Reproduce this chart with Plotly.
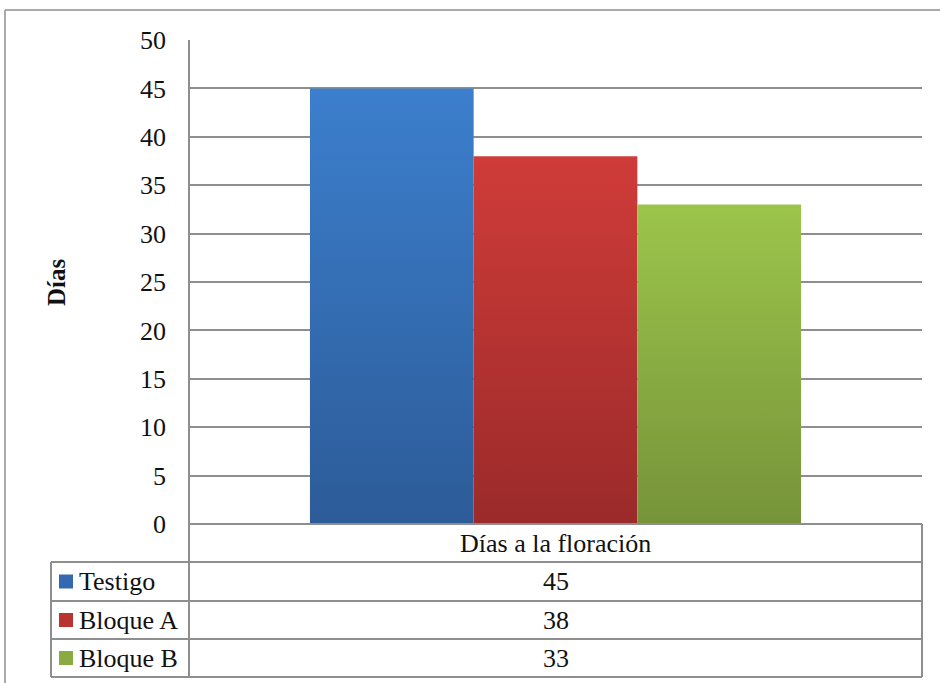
import plotly.graph_objects as go

# Data
categories = ["Días a la floración"]
series_names = ["Testigo", "Bloque A", "Bloque B"]
series_values = [45, 38, 33]
y_ticks = [0, 5, 10, 15, 20, 25, 30, 35, 40, 45, 50]

# Styling (gradient bottom -> top for each series, plus key colour)
gradients = [
    ("#2c5b98", "#3c7fcd"),
    ("#9b2a2a", "#cf3c39"),
    ("#76933a", "#9cc54b"),
]
key_colors = ["#3468b0", "#b93331", "#89ab42"]
line_gray = "#8e8e8e"
font_family = "'Times New Roman', 'Liberation Serif', Times, serif"
font_size = 26
text_color = "#111111"

W, H = 940, 683


def px(x):
    return x / W


def py(y):
    return 1 - y / H


# Geometry of the plot area (pixels)
left, right, top, bottom = 189, 922, 40, 524
legend_left = 51
row_edges = [524, 562, 601, 639, 677]

fig = go.Figure()

# Clustered bars drawn as filled areas so each can carry a vertical gradient
group_width = 0.67
bar_w = group_width / len(series_values)
for i, (name, val) in enumerate(zip(series_names, series_values)):
    x0 = -group_width / 2 + i * bar_w
    x1 = x0 + bar_w
    lo, hi = gradients[i]
    fig.add_trace(go.Scatter(
        x=[x0, x1, x1, x0, x0],
        y=[0, 0, val, val, 0],
        mode="lines",
        line=dict(width=0),
        fill="toself",
        fillgradient=dict(type="vertical", start=0, stop=val,
                          colorscale=[[0, lo], [1, hi]]),
        name=name,
        hoverinfo="name+y",
        showlegend=False,
    ))

fig.update_layout(
    width=W,
    height=H,
    autosize=False,
    margin=dict(l=0, r=0, t=0, b=0, pad=0, autoexpand=False),
    paper_bgcolor="white",
    plot_bgcolor="white",
    font=dict(family=font_family, size=font_size, color=text_color),
    xaxis=dict(
        domain=[px(left), px(right)],
        range=[-0.5, 0.5],
        showgrid=False,
        zeroline=False,
        showticklabels=False,
        automargin=False,
        fixedrange=True,
    ),
    yaxis=dict(
        domain=[py(bottom), py(top)],
        range=[0, 50],
        tickvals=y_ticks,
        showgrid=True,
        gridcolor=line_gray,
        gridwidth=2,
        zeroline=False,
        ticks="",
        ticklabelstandoff=22,
        automargin=False,
        tickfont=dict(family=font_family, size=font_size, color=text_color),
        fixedrange=True,
    ),
    showlegend=False,
)

shapes = []


def hline(x0, x1, y):
    shapes.append(dict(type="line", xref="paper", yref="paper",
                       x0=px(x0), x1=px(x1), y0=py(y), y1=py(y),
                       line=dict(color=line_gray, width=2)))


def vline(x, y0, y1):
    shapes.append(dict(type="line", xref="paper", yref="paper",
                       x0=px(x), x1=px(x), y0=py(y0), y1=py(y1),
                       line=dict(color=line_gray, width=2)))


# Outer chart frame (right and bottom edges fall outside the page)
shapes.append(dict(type="line", xref="paper", yref="paper",
                   x0=px(5), x1=1, y0=py(10), y1=py(10),
                   line=dict(color=line_gray, width=1.5)))
shapes.append(dict(type="line", xref="paper", yref="paper",
                   x0=px(5), x1=px(5), y0=py(10), y1=0,
                   line=dict(color=line_gray, width=1.5)))

# Vertical axis line continuing through the data table
vline(left, top, row_edges[-1])
# Data table grid
hline(left, right, row_edges[0])
for y in row_edges[1:]:
    hline(legend_left, right, y)
vline(right, row_edges[0], row_edges[-1])
vline(legend_left, row_edges[1], row_edges[-1])

annotations = []

# Table header: category name
annotations.append(dict(
    xref="paper", yref="paper",
    x=px((left + right) / 2), y=py((row_edges[0] + row_edges[1]) / 2),
    text=categories[0], showarrow=False,
    xanchor="center", yanchor="middle",
    font=dict(family=font_family, size=font_size, color=text_color),
))

# Table rows: legend key, series name and value
for i, (name, val) in enumerate(zip(series_names, series_values)):
    yc = (row_edges[i + 1] + row_edges[i + 2]) / 2
    shapes.append(dict(type="rect", xref="paper", yref="paper",
                       x0=px(59), x1=px(73), y0=py(yc - 7), y1=py(yc + 7),
                       line=dict(width=0), fillcolor=key_colors[i]))
    annotations.append(dict(
        xref="paper", yref="paper",
        x=px(77), y=py(yc), text=name, showarrow=False,
        xanchor="left", yanchor="middle",
        font=dict(family=font_family, size=font_size, color=text_color),
    ))
    annotations.append(dict(
        xref="paper", yref="paper",
        x=px((left + right) / 2), y=py(yc), text=str(val), showarrow=False,
        xanchor="center", yanchor="middle",
        font=dict(family=font_family, size=font_size, color=text_color),
    ))

# Vertical axis title
annotations.append(dict(
    xref="paper", yref="paper",
    x=px(56), y=py((top + bottom) / 2),
    text="<b>Días</b>", textangle=-90, showarrow=False,
    xanchor="center", yanchor="middle",
    font=dict(family=font_family, size=25, color=text_color),
))

fig.update_layout(shapes=shapes, annotations=annotations)

fig.write_html("out.html")
